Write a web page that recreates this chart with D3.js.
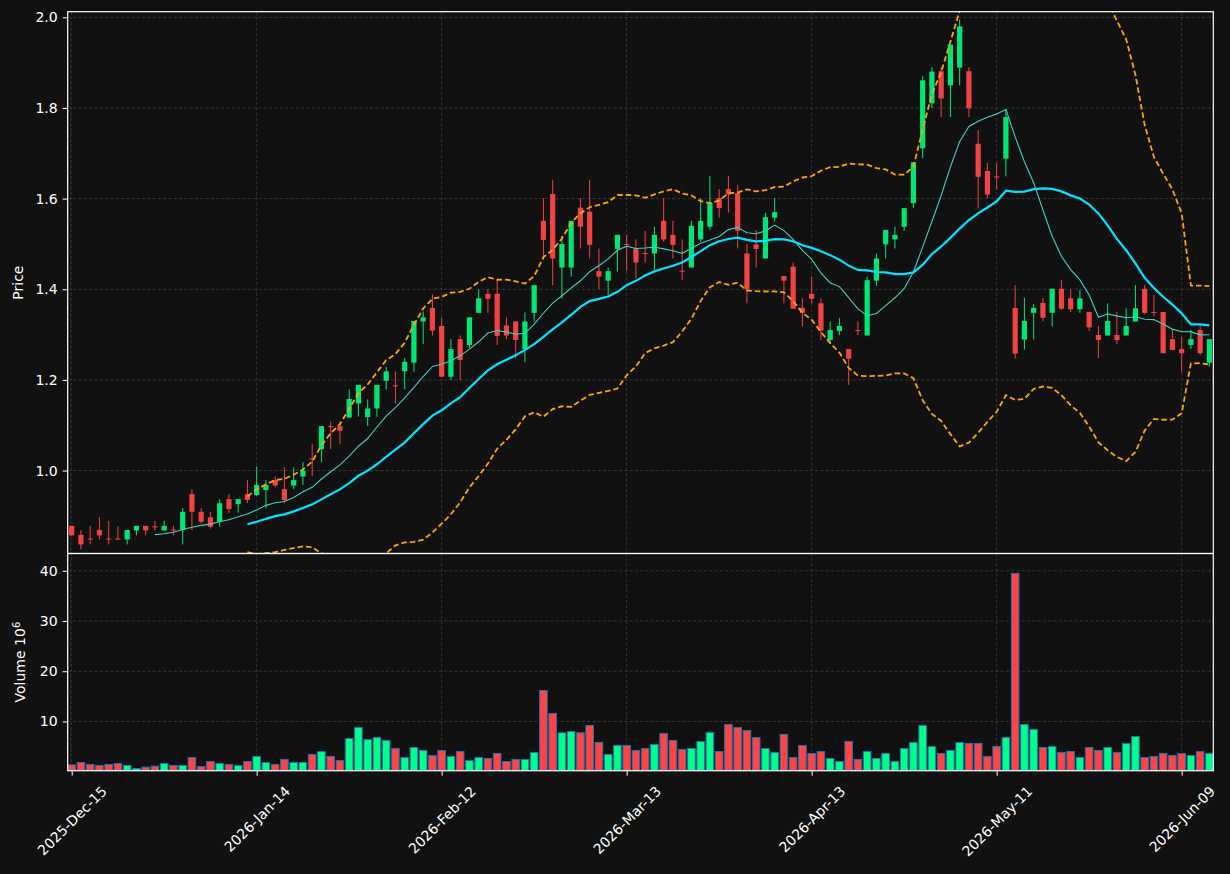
<!DOCTYPE html>
<html>
<head>
<meta charset="utf-8">
<script src="https://cdn.jsdelivr.net/npm/d3@7"></script>
<style>
html, body { margin: 0; padding: 0; background: #111111; }
svg { display: block; }
text { font-family: "DejaVu Sans", sans-serif; }
</style>
</head>
<body>
<svg id="chart" width="1230" height="874"></svg>
<script>
// trading days on the chart
var dates = [
  "2025-12-15","2025-12-16","2025-12-17","2025-12-18","2025-12-19","2025-12-22","2025-12-23","2025-12-24","2025-12-26","2025-12-29",
  "2025-12-30","2025-12-31","2026-01-02","2026-01-05","2026-01-06","2026-01-07","2026-01-08","2026-01-09","2026-01-12","2026-01-13",
  "2026-01-14","2026-01-15","2026-01-16","2026-01-20","2026-01-21","2026-01-22","2026-01-23","2026-01-26","2026-01-27","2026-01-28",
  "2026-01-29","2026-01-30","2026-02-02","2026-02-03","2026-02-04","2026-02-05","2026-02-06","2026-02-09","2026-02-10","2026-02-11",
  "2026-02-12","2026-02-13","2026-02-17","2026-02-18","2026-02-19","2026-02-20","2026-02-23","2026-02-24","2026-02-25","2026-02-26",
  "2026-02-27","2026-03-02","2026-03-03","2026-03-04","2026-03-05","2026-03-06","2026-03-09","2026-03-10","2026-03-11","2026-03-12",
  "2026-03-13","2026-03-16","2026-03-17","2026-03-18","2026-03-19","2026-03-20","2026-03-23","2026-03-24","2026-03-25","2026-03-26",
  "2026-03-27","2026-03-30","2026-03-31","2026-04-01","2026-04-02","2026-04-06","2026-04-07","2026-04-08","2026-04-09","2026-04-10",
  "2026-04-13","2026-04-14","2026-04-15","2026-04-16","2026-04-17","2026-04-20","2026-04-21","2026-04-22","2026-04-23","2026-04-24",
  "2026-04-27","2026-04-28","2026-04-29","2026-04-30","2026-05-01","2026-05-04","2026-05-05","2026-05-06","2026-05-07","2026-05-08",
  "2026-05-11","2026-05-12","2026-05-13","2026-05-14","2026-05-15","2026-05-18","2026-05-19","2026-05-20","2026-05-21","2026-05-22",
  "2026-05-26","2026-05-27","2026-05-28","2026-05-29","2026-06-01","2026-06-02","2026-06-03","2026-06-04","2026-06-05","2026-06-08",
  "2026-06-09","2026-06-10","2026-06-11","2026-06-12"
];

var opens = [
  0.878,0.858,0.850,0.869,0.850,0.850,0.848,0.868,0.878,0.877,
  0.868,0.870,0.869,0.948,0.909,0.897,0.887,0.937,0.926,0.948,
  0.946,0.957,0.979,0.959,0.967,0.987,1.027,1.047,1.098,1.098,
  1.117,1.148,1.118,1.137,1.198,1.188,1.219,1.238,1.329,1.359,
  1.319,1.207,1.290,1.277,1.348,1.390,1.390,1.320,1.329,1.268,
  1.348,1.551,1.610,1.448,1.448,1.580,1.571,1.440,1.419,1.489,
  1.500,1.490,1.480,1.479,1.551,1.520,1.441,1.448,1.510,1.538,
  1.601,1.621,1.612,1.479,1.499,1.468,1.558,1.429,1.450,1.359,
  1.390,1.369,1.288,1.308,1.268,1.310,1.298,1.419,1.499,1.510,
  1.538,1.590,1.711,1.810,1.881,1.850,1.889,1.881,1.721,1.661,
  1.649,1.688,1.359,1.289,1.348,1.370,1.348,1.401,1.380,1.356,
  1.350,1.299,1.298,1.299,1.298,1.329,1.401,1.350,1.350,1.290,
  1.268,1.277,1.310,1.238
];

var highs = [
  0.878,0.869,0.878,0.897,0.889,0.877,0.869,0.878,0.878,0.889,
  0.889,0.878,0.917,0.959,0.917,0.909,0.937,0.948,0.937,0.979,
  1.009,0.979,0.987,1.007,1.007,1.019,1.059,1.098,1.108,1.108,
  1.179,1.189,1.157,1.189,1.229,1.219,1.248,1.330,1.351,1.389,
  1.338,1.290,1.298,1.338,1.400,1.400,1.421,1.338,1.329,1.349,
  1.409,1.601,1.641,1.518,1.551,1.601,1.641,1.490,1.448,1.520,
  1.520,1.510,1.529,1.538,1.601,1.551,1.510,1.551,1.601,1.650,
  1.621,1.650,1.630,1.500,1.531,1.569,1.601,1.429,1.459,1.380,
  1.428,1.380,1.329,1.337,1.268,1.329,1.428,1.479,1.531,1.538,
  1.579,1.680,1.870,1.890,1.890,1.940,1.995,1.890,1.751,1.679,
  1.679,1.798,1.409,1.381,1.368,1.381,1.401,1.421,1.400,1.398,
  1.350,1.319,1.369,1.350,1.358,1.409,1.409,1.387,1.350,1.310,
  1.295,1.310,1.320,1.290
];

var lows = [
  0.856,0.826,0.837,0.848,0.837,0.847,0.837,0.857,0.857,0.868,
  0.868,0.857,0.837,0.868,0.883,0.872,0.876,0.907,0.907,0.928,
  0.944,0.917,0.964,0.928,0.959,0.968,0.988,1.018,1.047,1.059,
  1.117,1.119,1.098,1.119,1.179,1.148,1.179,1.218,1.279,1.298,
  1.207,1.200,1.200,1.270,1.348,1.348,1.277,1.290,1.248,1.239,
  1.329,1.465,1.409,1.380,1.428,1.490,1.468,1.400,1.387,1.439,
  1.440,1.424,1.459,1.443,1.505,1.468,1.420,1.448,1.505,1.531,
  1.558,1.569,1.490,1.369,1.448,1.468,1.549,1.369,1.357,1.318,
  1.369,1.288,1.279,1.299,1.189,1.299,1.298,1.408,1.468,1.490,
  1.529,1.579,1.689,1.800,1.780,1.780,1.850,1.780,1.578,1.601,
  1.620,1.649,1.247,1.267,1.289,1.329,1.318,1.355,1.350,1.348,
  1.308,1.248,1.298,1.279,1.298,1.329,1.345,1.340,1.259,1.266,
  1.218,1.268,1.255,1.229
];

var closes = [
  0.857,0.837,0.848,0.857,0.848,0.848,0.869,0.878,0.868,0.876,
  0.878,0.868,0.909,0.909,0.887,0.876,0.928,0.915,0.937,0.935,
  0.968,0.968,0.967,0.935,0.979,1.000,1.026,1.098,1.097,1.088,
  1.158,1.189,1.137,1.189,1.219,1.187,1.240,1.330,1.338,1.309,
  1.207,1.268,1.244,1.338,1.380,1.379,1.297,1.298,1.288,1.329,
  1.409,1.509,1.468,1.500,1.551,1.538,1.498,1.428,1.440,1.520,
  1.499,1.459,1.479,1.520,1.510,1.498,1.440,1.540,1.551,1.590,
  1.579,1.609,1.529,1.400,1.489,1.559,1.570,1.419,1.357,1.348,
  1.379,1.309,1.310,1.319,1.247,1.309,1.420,1.468,1.531,1.520,
  1.579,1.680,1.861,1.880,1.821,1.940,1.980,1.799,1.648,1.609,
  1.648,1.780,1.258,1.330,1.359,1.337,1.401,1.357,1.356,1.380,
  1.316,1.288,1.330,1.288,1.319,1.358,1.348,1.348,1.259,1.266,
  1.259,1.290,1.259,1.290
];

// volume in millions
var volumes = [
  1.36,1.83,1.43,1.23,1.43,1.63,1.23,0.63,0.90,1.10,
  1.63,1.23,1.23,2.82,1.03,2.03,1.63,1.43,1.23,2.03,
  3.03,1.83,1.43,2.43,1.83,1.83,3.43,4.02,3.03,2.23,
  6.61,8.80,6.41,6.81,6.22,4.63,2.82,4.82,4.22,3.23,
  4.22,3.03,4.02,2.23,2.82,2.62,3.63,2.03,2.43,2.43,
  3.83,16.17,11.59,7.74,8.00,7.74,9.20,5.82,3.43,5.22,
  5.22,4.22,4.62,5.42,7.61,6.22,4.42,4.62,6.02,7.81,
  4.02,9.40,8.80,8.20,6.81,4.62,3.83,7.41,2.82,5.22,
  3.63,4.02,2.62,2.03,6.02,2.43,4.02,2.62,3.63,2.03,
  4.62,5.82,9.20,5.02,3.63,4.22,5.82,5.62,5.62,3.03,
  5.02,6.81,39.50,9.40,8.40,4.82,5.02,3.83,4.02,2.82,
  4.82,4.22,4.82,3.83,5.62,7.01,2.82,3.03,3.63,3.23,
  3.63,3.23,4.02,3.63
];

var priceTicks = [1.0, 1.2, 1.4, 1.6, 1.8, 2.0];
var volumeTicks = [10, 20, 30, 40];
var dateTicks = [0, 20, 40, 60, 80, 100, 120];

// ---- layout
var left = 67.7, right = 1213.3;
var priceTop = 11.7, split = 553.5, volBottom = 770.7;
var upColor = "#00e676", downColor = "#f04444";
var volUp = "#00ff88", volDown = "#ff4444";

var svg = d3.select("#chart");

var x = d3.scaleLinear()
    .domain([-0.43, dates.length - 0.58])
    .range([left, right]);

var yPrice = d3.scaleLinear()
    .domain([0.817, 2.0124])
    .range([split, priceTop]);

var yVol = d3.scaleLinear()
    .domain([0.3 * d3.min(volumes), 1.1 * d3.max(volumes)])
    .range([volBottom, split]);

// simple moving average, null until the window is full
function sma(values, n) {
    return values.map(function (d, i) {
        if (i < n - 1) return null;
        return d3.mean(values.slice(i - n + 1, i + 1));
    });
}

function band(values, n, k) {
    return values.map(function (d, i) {
        if (i < n - 1) return null;
        var win = values.slice(i - n + 1, i + 1);
        return d3.mean(win) + k * d3.deviation(win);
    });
}

var ma10 = sma(closes, 10);
var ma20 = sma(closes, 20);
var bandUp = band(closes, 20, 2);
var bandLow = band(closes, 20, -2);

// clip for the price panel
svg.append("defs").append("clipPath").attr("id", "priceClip")
    .append("rect")
    .attr("x", left).attr("y", priceTop)
    .attr("width", right - left).attr("height", split - priceTop);

// ---- grid
var grid = svg.append("g").attr("class", "grid")
    .attr("stroke", "#3c3c3c")
    .attr("stroke-width", 0.8)
    .attr("stroke-dasharray", "3.3,2");

priceTicks.forEach(function (t) {
    grid.append("line")
        .attr("x1", left).attr("x2", right)
        .attr("y1", yPrice(t)).attr("y2", yPrice(t));
});
volumeTicks.forEach(function (t) {
    grid.append("line")
        .attr("x1", left).attr("x2", right)
        .attr("y1", yVol(t)).attr("y2", yVol(t));
});
dateTicks.forEach(function (t) {
    grid.append("line")
        .attr("x1", x(t)).attr("x2", x(t))
        .attr("y1", priceTop).attr("y2", volBottom);
});

// ---- candles
var candles = svg.append("g").attr("clip-path", "url(#priceClip)");

closes.forEach(function (c, i) {
    var o = opens[i];
    var col = c >= o ? upColor : downColor;
    candles.append("line")
        .attr("x1", x(i)).attr("x2", x(i))
        .attr("y1", yPrice(highs[i])).attr("y2", yPrice(lows[i]))
        .attr("stroke", col)
        .attr("stroke-width", 1);
    var top = yPrice(Math.max(o, c));
    var h = Math.max(1, yPrice(Math.min(o, c)) - top);
    candles.append("rect")
        .attr("x", x(i) - 2.6)
        .attr("y", top)
        .attr("width", 5.2)
        .attr("height", h)
        .attr("fill", col);
});

// ---- moving averages and bands
var line = d3.line()
    .defined(function (d) { return d !== null; })
    .x(function (d, i) { return x(i); })
    .y(function (d) { return yPrice(d); });

var lines = svg.append("g").attr("clip-path", "url(#priceClip)").attr("fill", "none");

lines.append("path").attr("d", line(bandUp))
    .attr("stroke", "#ffa500").attr("stroke-width", 1.8).attr("stroke-dasharray", "5.5,3");
lines.append("path").attr("d", line(bandLow))
    .attr("stroke", "#ffa500").attr("stroke-width", 1.8).attr("stroke-dasharray", "5.5,3");
lines.append("path").attr("d", line(ma10))
    .attr("stroke", "#40d0c4").attr("stroke-width", 1.1);
lines.append("path").attr("d", line(ma20))
    .attr("stroke", "#00e5ff").attr("stroke-width", 2.2);

// ---- volume bars
var bars = svg.append("g");
volumes.forEach(function (v, i) {
    bars.append("rect")
        .attr("x", x(i) - 3.8)
        .attr("y", yVol(v))
        .attr("width", 7.6)
        .attr("height", volBottom - yVol(v))
        .attr("fill", closes[i] >= opens[i] ? volUp : volDown)
        .attr("stroke", "#2270b0")
        .attr("stroke-width", 1);
});

// ---- axes
function styleAxis(g) {
    g.select(".domain").remove();
    g.selectAll(".tick line").attr("stroke", "white").attr("stroke-width", 1);
    g.selectAll(".tick text").attr("fill", "white").style("font-size", "14px")
        .style("font-family", "DejaVu Sans, sans-serif");
}

svg.append("g")
    .attr("transform", "translate(" + left + ",0)")
    .call(d3.axisLeft(yPrice).tickValues(priceTicks).tickFormat(d3.format(".1f")).tickSize(5).tickPadding(5))
    .call(styleAxis);

svg.append("g")
    .attr("transform", "translate(" + left + ",0)")
    .call(d3.axisLeft(yVol).tickValues(volumeTicks).tickFormat(d3.format("d")).tickSize(5).tickPadding(5))
    .call(styleAxis);

var parse = d3.timeParse("%Y-%m-%d");
var fmt = d3.timeFormat("%Y-%b-%d");

var xAxis = svg.append("g")
    .attr("transform", "translate(0," + volBottom + ")")
    .call(d3.axisBottom(x).tickValues(dateTicks)
        .tickFormat(function (i) { return fmt(parse(dates[i])); })
        .tickSize(5))
    .call(styleAxis);

// rotate date labels 45 degrees, box centred under the tick
xAxis.selectAll(".tick text").each(function () {
    var t = d3.select(this);
    var len = this.getComputedTextLength();
    var half = (len + 14) * 0.7071 / 2;
    t.attr("text-anchor", "middle")
        .attr("y", 0)
        .attr("dy", "0.35em")
        .attr("transform", "translate(0," + (13 + half) + ") rotate(-45)");
});

// ---- spines
svg.append("rect")
    .attr("x", left).attr("y", priceTop)
    .attr("width", right - left).attr("height", split - priceTop)
    .attr("fill", "none").attr("stroke", "white").attr("stroke-width", 1.2);
svg.append("rect")
    .attr("x", left).attr("y", split)
    .attr("width", right - left).attr("height", volBottom - split)
    .attr("fill", "none").attr("stroke", "white").attr("stroke-width", 1.2);

// ---- axis titles
svg.append("text")
    .attr("transform", "translate(18," + ((priceTop + split) / 2) + ") rotate(-90)")
    .attr("text-anchor", "middle")
    .attr("dy", "0.35em")
    .attr("fill", "white")
    .style("font-size", "14px")
    .text("Price");

var volLabel = svg.append("text")
    .attr("transform", "translate(20," + ((split + volBottom) / 2) + ") rotate(-90)")
    .attr("text-anchor", "middle")
    .attr("dy", "0.35em")
    .attr("fill", "white")
    .style("font-size", "14px");
volLabel.append("tspan").text("Volume  10");
volLabel.append("tspan").attr("dy", "-0.45em").style("font-size", "10px").text("6");
</script>
</body>
</html>
